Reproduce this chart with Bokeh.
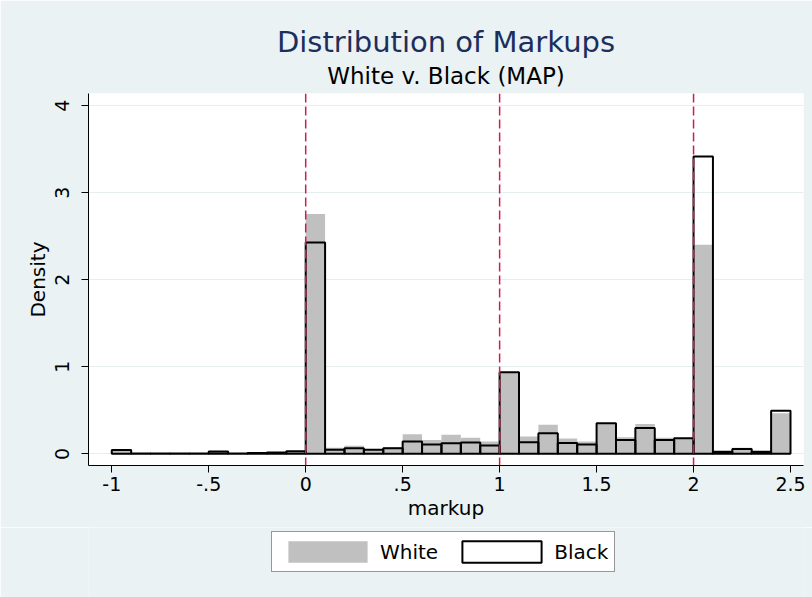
import numpy as np
from bokeh.plotting import figure
from bokeh.layouts import column
from bokeh.models import (Legend, LegendItem, Title, Span, FixedTicker,
                          ColumnDataSource)
from bokeh.embed import file_html
from bokeh.resources import INLINE

# ---- data ----
bin_start = -1.0
bin_width = 0.1
white = [0.040, 0.008, 0.005, 0.005, 0.006, 0.022, 0.006, 0.012, 0.015, 0.025,
         2.756, 0.069, 0.092, 0.054, 0.080, 0.225, 0.160, 0.218, 0.184, 0.141,
         0.940, 0.199, 0.333, 0.176, 0.141, 0.352, 0.191, 0.344, 0.184, 0.178,
         2.404, 0.030, 0.069, 0.020, 0.466]
black = [0.045, 0.005, 0.004, 0.004, 0.005, 0.028, 0.005, 0.010, 0.015, 0.030,
         2.430, 0.046, 0.065, 0.046, 0.065, 0.141, 0.107, 0.122, 0.130, 0.095,
         0.937, 0.134, 0.237, 0.126, 0.107, 0.352, 0.160, 0.298, 0.160, 0.179,
         3.418, 0.025, 0.057, 0.023, 0.494]
x_ticks = [-1, -0.5, 0, 0.5, 1, 1.5, 2, 2.5]
x_tick_labels = ["-1", "-.5", "0", ".5", "1", "1.5", "2", "2.5"]
y_ticks = [0, 1, 2, 3, 4]
xlines = [0, 1, 2]
series_names = ["White", "Black"]

n = len(white)
left = bin_start + bin_width * np.arange(n)
right = left + bin_width

FONT = "DejaVu Sans"
BG = "#eaf2f3"
GRAY = "#c0c0c0"

p = figure(frame_width=715, frame_height=372,
           x_range=(-1.120, 2.567), y_range=(-0.134, 4.141),
           output_backend="svg", toolbar_location=None,
           min_border_left=88, min_border_right=9, min_border_top=93,
           min_border_bottom=62)
p.background_fill_color = "white"
p.border_fill_color = BG
p.outline_line_color = None

src_w = ColumnDataSource(dict(left=left, right=right, top=white))
src_b = ColumnDataSource(dict(left=left, right=right, top=black))

p.quad(left="left", right="right", top="top", bottom=0, source=src_w,
       fill_color=GRAY, line_color=None)
p.quad(left="left", right="right", top="top", bottom=0, source=src_b,
       fill_alpha=0, line_color="black", line_width=2)

for xv in xlines:
    p.add_layout(Span(location=xv, dimension="height", line_color="#d01c4b",
                      line_width=1.5, line_dash="9 4"))

# axes
p.xaxis.ticker = FixedTicker(ticks=x_ticks)
p.xaxis.major_label_overrides = {t: l for t, l in zip(x_ticks, x_tick_labels)}
p.yaxis.ticker = FixedTicker(ticks=y_ticks)
for ax in (p.xaxis, p.yaxis):
    ax.axis_line_color = "black"
    ax.major_tick_line_color = "black"
    ax.major_tick_out = 7
    ax.major_tick_in = 0
    ax.minor_tick_line_color = None
    ax.major_label_text_font = FONT
    ax.major_label_text_font_size = "19px"
    ax.major_label_text_color = "black"
    ax.axis_label_text_font = FONT
    ax.axis_label_text_font_size = "20px"
    ax.axis_label_text_font_style = "normal"
    ax.axis_label_text_color = "black"
p.xaxis.axis_label = "markup"
p.yaxis.axis_label = "Density"
p.xaxis.major_label_standoff = 4
p.xaxis.axis_label_standoff = 2
p.yaxis.major_label_orientation = "vertical"
p.yaxis.major_label_standoff = 12
p.yaxis.axis_label_standoff = 3

p.xgrid.grid_line_color = None
p.ygrid.grid_line_color = "#e6eef0"
p.ygrid.grid_line_width = 1

# titles (spacer first so the two titles sit a little higher)
p.add_layout(Title(text=" ", text_font=FONT, text_font_size="3px",
                   standoff=0), "above")
p.add_layout(Title(text="White v. Black (MAP)", align="center", text_font=FONT,
                   text_font_size="23px", text_font_style="normal",
                   text_color="black", standoff=0), "above")
p.add_layout(Title(text="Distribution of Markups", align="center", text_font=FONT,
                   text_font_size="29px", text_font_style="normal",
                   text_color="#1c2e5c", standoff=3), "above")

# legend strip below the chart (its keys come from off-screen stand-in quads)
lg = figure(width=812, height=70, x_range=(0, 1), y_range=(0, 1),
            output_backend="svg", toolbar_location=None,
            x_axis_type=None, y_axis_type=None,
            min_border_left=0, min_border_right=0, min_border_top=0,
            min_border_bottom=0)
lg.background_fill_color = BG
lg.border_fill_color = BG
lg.outline_line_color = None
lg.xgrid.visible = False
lg.ygrid.visible = False
offscreen = dict(left=[5], right=[6], top=[6], bottom=[5])
lw = lg.quad(left="left", right="right", top="top", bottom="bottom",
             source=ColumnDataSource(offscreen), fill_color=GRAY, line_color=None)
lb = lg.quad(left="left", right="right", top="top", bottom="bottom",
             source=ColumnDataSource(dict(offscreen)), fill_alpha=0,
             line_color="black", line_width=2)
legend = Legend(items=[LegendItem(label=series_names[0], renderers=[lw]),
                       LegendItem(label=series_names[1], renderers=[lb])],
                orientation="horizontal", location=(183, 25),
                glyph_width=99, glyph_height=27, label_standoff=3, spacing=14,
                padding=6, margin=0,
                label_text_font=FONT, label_text_font_size="20px",
                label_text_color="black",
                border_line_color="#303030", border_line_width=1,
                background_fill_color="white", background_fill_alpha=1)
lg.add_layout(legend, "center")

layout = column(p, lg, spacing=0)
open("out.html", "w").write(file_html(layout, INLINE))
